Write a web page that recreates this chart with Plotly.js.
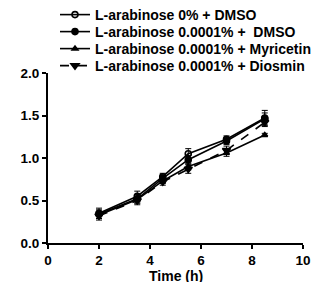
<!DOCTYPE html>
<html>
<head>
<meta charset="utf-8">
<script src="https://cdn.plot.ly/plotly-3.0.1.min.js"></script>
<style>
  html, body { margin: 0; padding: 0; background: #fff; }
  #chart { width: 317px; height: 282px; }
</style>
</head>
<body>
<div id="chart"></div>
<script>
// Growth curves (A600) over time
const timeH = [2, 3.5, 4.5, 5.5, 7, 8.5];

const seriesNames = [
  'L-arabinose 0% + DMSO',
  'L-arabinose 0.0001% +  DMSO',
  'L-arabinose 0.0001% + Myricetin',
  'L-arabinose 0.0001% + Diosmin'
];

const araZeroDmso    = [0.35, 0.55, 0.78, 1.05, 1.22, 1.47];
const araDmso        = [0.34, 0.52, 0.76, 0.98, 1.20, 1.46];
const araMyricetin   = [0.33, 0.51, 0.73, 0.90, 1.06, 1.27];
const araDiosmin     = [0.32, 0.50, 0.72, 0.87, 1.09, 1.42];

const errZeroDmso    = [0.06, 0.06, 0.04, 0.06, 0.04, 0.09];
const errDmso        = [0.05, 0.05, 0.04, 0.05, 0.04, 0.07];
const errMyricetin   = [0.04, 0.04, 0.03, 0.04, 0.04, 0.02];
const errDiosmin     = [0.05, 0.05, 0.04, 0.05, 0.05, 0.05];

const xTitle = 'Time (h)';

const values = [araZeroDmso, araDmso, araMyricetin, araDiosmin];
const errors = [errZeroDmso, errDmso, errMyricetin, errDiosmin];
const symbols = ['circle-open', 'circle', 'triangle-up', 'triangle-down'];
const sizes = [6, 6, 5, 7];
const dashes = ['solid', 'solid', 'solid', 'dash'];
const legendIds = ['legend', 'legend2', 'legend3', 'legend4'];

const traces = values.map((v, i) => ({
  type: 'scatter',
  mode: 'lines+markers',
  name: seriesNames[i],
  legend: legendIds[i],
  x: timeH,
  y: v,
  line: { color: '#000', width: 1.6, dash: dashes[i] },
  marker: { symbol: symbols[i], size: sizes[i], color: '#000',
            line: { color: '#000', width: 1.6 } },
  error_y: { type: 'data', array: errors[i], visible: true,
             color: '#000', thickness: 1, width: 3 }
}));

const FONT = 'Liberation Sans, Arial, sans-serif';
const tickFont = { family: FONT, size: 13.5, color: '#000', weight: 'bold' };
const titleFont = { family: FONT, size: 14, color: '#000', weight: 'bold' };

// one stacked legend row per series, placed in container pixels
const W = 317, H = 282;
const M = { l: 48, r: 14, t: 73, b: 39 };
const rowCenters = [15, 32, 49, 66];
function legendRow(cy) {
  return {
    xref: 'container', yref: 'container',
    x: 55 / W, y: 1 - cy / H,
    xanchor: 'left', yanchor: 'middle',
    bgcolor: 'rgba(0,0,0,0)',
    font: { family: FONT, size: 14, color: '#000', weight: 'bold' },
    itemwidth: 30
  };
}

// paper-y of the x-axis title centre, 276px down the page
const plotH = H - M.t - M.b;
const xTitleY = (H - M.b - 276) / plotH;

const layout = {
  width: W,
  height: H,
  margin: { l: M.l, r: M.r, t: M.t, b: M.b, autoexpand: false },
  paper_bgcolor: '#fff',
  plot_bgcolor: '#fff',
  font: { family: FONT, color: '#000' },
  showlegend: true,
  legend: legendRow(rowCenters[0]),
  legend2: legendRow(rowCenters[1]),
  legend3: legendRow(rowCenters[2]),
  legend4: legendRow(rowCenters[3]),
  xaxis: {
    range: [0, 10], dtick: 2, tick0: 0,
    showgrid: false, zeroline: false,
    showline: true, linecolor: '#000', linewidth: 2,
    ticks: 'outside', ticklen: 4, tickwidth: 2, tickcolor: '#000',
    tickfont: tickFont
  },
  yaxis: {
    range: [0, 2], dtick: 0.5, tick0: 0, tickformat: '.1f',
    automargin: true,
    showgrid: false, zeroline: false,
    showline: true, linecolor: '#000', linewidth: 2,
    ticks: 'outside', ticklen: 4, tickwidth: 2, tickcolor: '#000',
    tickfont: tickFont,
    title: { text: '<i>A</i><sub><i>600</i></sub>', font: titleFont, standoff: 4 }
  },
  annotations: [{
    text: xTitle, showarrow: false,
    xref: 'paper', x: 0.5, xanchor: 'center',
    yref: 'paper', y: xTitleY, yanchor: 'middle',
    font: titleFont
  }]
};

Plotly.newPlot('chart', traces, layout, { displayModeBar: false, staticPlot: true });
</script>
</body>
</html>
